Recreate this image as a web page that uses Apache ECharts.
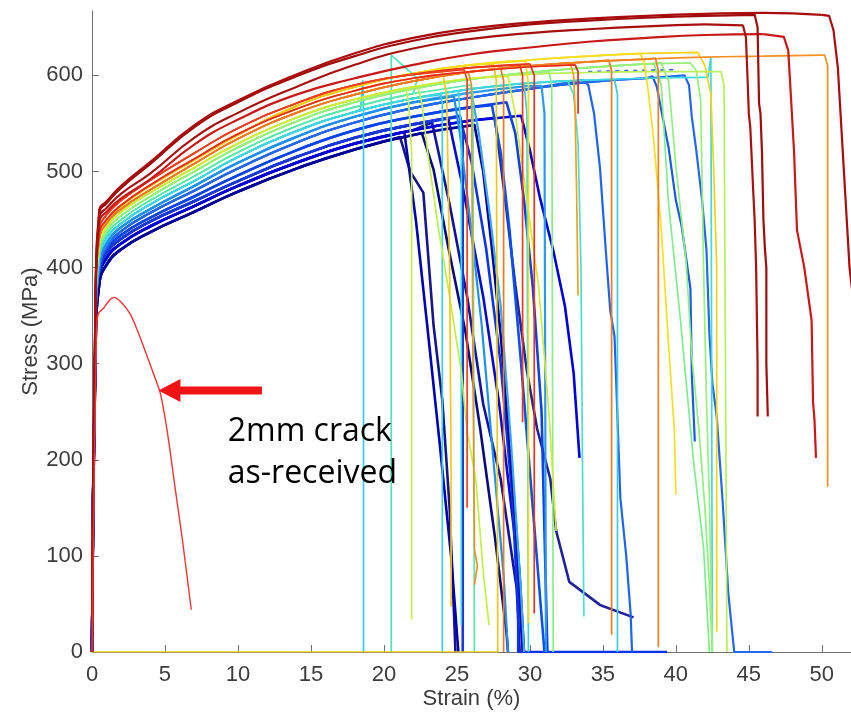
<!DOCTYPE html>
<html>
<head>
<meta charset="utf-8">
<script src="https://cdn.jsdelivr.net/npm/echarts@6/dist/echarts.min.js"></script>
<style>
  html, body { margin: 0; padding: 0; background: #ffffff; }
  #chart { width: 851px; height: 719px; }
</style>
</head>
<body>
<div id="chart"></div>
<script>
// ---------------------------------------------------------------
// Data: tensile tests, stress (MPa) against strain (%)
// ---------------------------------------------------------------
const strainTicks = [0, 5, 10, 15, 20, 25, 30, 35, 40, 45, 50];
const stressTicks = [0, 100, 200, 300, 400, 500, 600];

// strain stations at which the hardening curves are sampled
const strainKnots = [0, 0.25, 0.5, 1, 2, 4, 7, 10, 14, 18, 22, 26, 30, 34, 38, 42, 46, 50, 53];

// hardening curves (stress at each strain station)
const stressNavyLow   = [0, 320, 383, 403, 419, 437, 458, 479, 503, 523, 538, 548, 555];
const stressNavy      = [0, 330, 390, 410, 425, 443, 464, 485, 509, 529, 543, 553, 560, 563];
const stressDarkBlue  = [0, 335, 395, 415, 430, 448, 469, 490, 515, 535, 549, 559, 565, 569];
const stressBlue      = [0, 340, 398, 418, 434, 452, 474, 496, 522, 543, 557, 567, 574, 580];
const stressMidBlue   = [0, 340, 400, 421, 438, 457, 480, 503, 530, 551, 566, 577, 586, 593, 597, 600, 601];
const stressLightBlue = [0, 345, 405, 425, 442, 461, 485, 509, 536, 557, 572, 582, 589, 594];
const stressCyan      = [0, 350, 410, 430, 446, 466, 490, 515, 542, 562, 576, 586, 592, 595, 597, 598];
const stressAqua      = [0, 355, 415, 434, 450, 470, 495, 520, 547, 567, 581, 591, 597, 601, 604, 606];
const stressGreen     = [0, 360, 420, 438, 454, 474, 500, 525, 552, 572, 586, 596, 603, 608, 612, 614];
const stressLime      = [0, 362, 425, 442, 458, 478, 504, 529, 556, 575, 588, 597, 601, 603, 604, 604];
const stressYellow    = [0, 370, 432, 448, 464, 485, 512, 538, 568, 588, 602, 611, 616, 620, 623, 624, 624];
const stressOrange    = [0, 368, 430, 446, 461, 481, 508, 534, 561, 580, 594, 604, 610, 614, 617, 619, 620, 621, 621];
const stressRedOrange = [0, 372, 435, 450, 465, 486, 513, 539, 565, 584, 597, 604, 609, 612, 614, 615];
const stressRed       = [0, 375, 440, 455, 470, 491, 519, 545, 571, 590, 601, 608, 612, 614, 616];
const stressDarkRedA  = [0, 380, 460, 469, 485, 510, 548, 574, 601, 623, 639, 649, 655, 659, 662, 664, 665, 663, 661];
const stressDarkRedB  = [0, 378, 458, 467, 483, 508, 546, 572, 599, 620, 636, 646, 653, 657, 660, 662, 663];
const stressDarkRedC  = [0, 372, 453, 462, 477, 498, 535, 561, 588, 611, 628, 638, 644, 648, 651, 653];
const stressDarkRedD  = [0, 368, 448, 458, 472, 492, 528, 554, 580, 597, 611, 622, 629, 635, 639, 642, 643];

// specimens: which hardening curve each follows, then its failure path [strain, stress]
const specimenIds = [
  'N1', 'N2', 'N3', 'N4', 'N5', 'N6', 'N7', 'N8', 'N9', 'N10', 'N11', 'N12',
  'B1', 'B2', 'B3', 'LB1', 'LB2', 'LB3',
  'C1', 'C2', 'C3', 'C4', 'C5', 'C6', 'C7', 'A1', 'A2',
  'G1', 'G2', 'G3', 'G4', 'L1', 'L2', 'L3', 'L4',
  'Y0', 'Y1', 'Y2', 'Y3', 'Y4',
  'O1', 'O2', 'O3', 'O4', 'O5', 'O6',
  'R1', 'R2', 'R3', 'R4',
  'D4', 'D3', 'D2', 'D1'
];
const specimenBase = [
  'navyLow', 'navy', 'navy', 'darkBlue', 'navy', 'navy', 'navyLow', 'darkBlue', 'blue', 'blue', 'darkBlue', 'navyLow',
  'midBlue', 'midBlue', 'midBlue', 'lightBlue', 'lightBlue', 'lightBlue',
  'cyan', 'cyan', 'cyan', 'cyan', 'cyan', 'cyan', 'cyan', 'aqua', 'aqua',
  'green', 'green', 'green', 'green', 'lime', 'lime', 'lime', 'lime',
  'yellow', 'yellow', 'yellow', 'yellow', 'yellow',
  'orange', 'orange', 'orange', 'orange', 'redOrange', 'redOrange',
  'red', 'red', 'redOrange', 'red',
  'darkRedD', 'darkRedC', 'darkRedB', 'darkRedA'
];
const specimenFailure = [
  [[21.1, 536], [21.8, 500], [22.7, 478], [23.4, 340], [24.0, 262], [24.5, 150], [24.8, 40], [24.9, 0]],
  [[21.4, 541], [22.2, 448], [23.0, 335], [23.8, 220], [24.6, 100], [25.1, 0]],
  [[23.3, 551], [24.5, 466], [25.7, 370], [26.8, 258], [28.0, 180], [29.1, 66], [29.3, 0]],
  [[24.4, 556], [25.4, 484], [26.8, 370], [27.9, 258], [29.1, 103], [29.5, 0]],
  [[27.6, 556], [28.3, 472], [29.0, 382], [29.8, 292], [30.5, 232], [31.4, 180], [31.8, 126], [32.7, 73], [34.8, 49], [37.1, 36]],
  [[29.4, 558], [30.0, 522], [30.7, 472], [31.6, 418], [32.4, 360], [33.0, 290], [33.4, 202]],
  [[22.6, 540], [23.4, 502], [24.4, 422], [25.6, 332], [26.6, 232], [27.6, 120], [28.4, 20], [28.5, 0]],
  [[25.2, 557], [26.0, 510], [27.0, 420], [28.0, 300], [28.8, 160], [29.2, 40], [29.2, 0], [39.4, 0]],
  [[27.4, 569], [28.0, 520], [28.6, 440], [29.4, 300], [30.2, 150], [31.0, 0]],
  [[28.4, 572], [29.0, 540], [29.6, 470], [30.2, 380], [30.8, 250], [31.2, 0]],
  [[25.2, 558], [25.4, 540], [25.4, 0]],
  [[26.2, 549], [26.8, 500], [27.4, 420], [28.0, 330], [28.7, 200], [29.3, 80], [29.6, 0]],
  [[33.6, 595], [34.0, 590], [34.4, 560], [34.8, 504], [35.2, 418], [35.5, 356], [35.8, 328], [36.2, 160], [36.6, 100], [36.9, 40], [37.0, 0]],
  [[38.4, 599], [38.7, 588], [39.0, 564], [39.5, 525], [40.0, 470], [40.4, 443], [41.0, 378], [41.1, 287], [41.3, 219]],
  [[40.6, 600], [40.9, 590], [41.1, 556], [41.4, 522], [41.8, 470], [42.1, 418], [42.3, 331], [42.5, 280], [42.8, 245], [43.2, 158], [43.6, 60], [44.0, 0], [46.6, 0]],
  [[30.8, 589], [31.0, 560], [31.1, 0]],
  [[26.0, 582], [26.5, 540], [27.3, 450], [28.0, 360], [28.7, 220], [29.4, 60], [29.6, 0]],
  [[24.8, 578], [25.2, 540], [25.9, 450], [26.7, 340], [27.5, 200], [28.2, 80], [28.5, 0]],
  [[18.4, 565], [18.55, 595], [18.6, 560], [18.6, 0]],
  [[23.9, 580], [24.0, 570], [24.0, 0]],
  [[25.1, 584], [25.3, 540], [25.3, 28]],
  [[29.6, 592], [29.8, 560], [29.9, 0]],
  [[32.6, 594], [33.0, 580], [33.3, 530], [33.5, 400], [33.6, 200], [33.7, 37]],
  [[35.8, 596], [36.0, 580], [36.0, 0]],
  [[42.2, 598], [42.4, 619], [42.5, 0]],
  [[22.3, 597], [20.5, 621], [20.5, 0]],
  [[25.9, 590], [26.1, 580], [26.2, 0]],
  [[31.3, 604], [31.5, 590], [31.6, 0]],
  [[39.0, 613], [39.5, 594], [40.0, 506], [40.7, 406], [41.1, 307], [41.6, 228], [42.0, 148], [42.3, 69], [42.5, 0]],
  [[38.5, 612], [39.0, 590], [39.5, 467], [40.3, 348], [41.2, 200], [41.9, 108], [42.3, 0]],
  [[41.0, 613], [41.4, 605], [41.7, 574], [41.9, 400], [42.1, 260], [42.3, 158], [42.5, 0]],
  [[21.5, 587], [21.7, 570], [21.9, 520], [21.9, 34]],
  [[22.3, 589], [22.6, 571], [23.0, 520], [23.7, 444], [24.5, 370], [25.3, 292], [25.7, 230], [26.3, 179], [26.8, 84], [27.2, 28]],
  [[43.1, 604], [43.3, 590], [43.4, 300], [43.5, 0]],
  [[28.5, 599], [29.0, 560], [29.8, 470], [30.6, 380], [31.3, 250], [31.8, 126]],
  [[27.5, 612], [27.7, 595], [27.8, 0], [0, 0]],
  [[29.7, 615], [29.9, 590], [29.9, 30]],
  [[41.5, 624], [42.0, 610], [42.4, 580], [42.6, 500], [42.8, 400], [42.8, 21]],
  [[37.5, 623], [37.8, 616], [38.1, 585], [38.5, 530], [39.0, 440], [39.5, 320], [39.9, 230], [40.0, 164]],
  [[24.0, 604], [24.3, 580], [24.5, 400], [24.6, 200], [24.6, 47]],
  [[50.2, 621], [50.4, 610], [50.4, 172]],
  [[35.4, 616], [35.6, 605], [35.6, 18]],
  [[38.6, 618], [38.8, 605], [38.8, 5]],
  [[28.0, 607], [28.2, 595], [28.2, 0]],
  [[32.8, 611], [33.0, 600], [33.1, 560], [33.2, 480], [33.3, 371]],
  [[25.8, 603], [26.0, 590], [26.1, 300], [26.2, 107], [26.4, 90], [26.2, 70]],
  [[29.3, 611], [29.5, 600], [29.5, 239]],
  [[30.1, 612], [30.3, 600], [30.3, 40]],
  [[33.1, 611], [33.3, 604], [33.3, 560]],
  [[25.5, 606], [25.7, 595], [25.7, 150]],
  [[47.4, 640], [47.7, 626], [47.9, 574], [48.1, 520], [48.3, 439], [48.8, 400], [49.3, 345], [49.4, 260], [49.5, 241], [49.6, 202]],
  [[44.6, 652], [44.8, 640], [44.9, 602], [45.0, 560], [45.1, 546], [45.3, 480], [45.4, 449], [45.5, 400], [45.6, 300], [45.6, 245]],
  [[45.4, 663], [45.6, 650], [45.7, 571], [45.8, 560], [45.9, 520], [46.0, 450], [46.1, 420], [46.2, 400], [46.2, 300], [46.3, 245]],
  [[50.5, 662], [50.8, 647], [51.1, 608], [51.5, 504], [51.9, 400], [52.2, 360], [52.6, 250]]
];

// scatter of the extensometer signal on one blue test near the plateau
const noiseStrain = [34.0, 40.0];
const noiseStress = [604, 606];

// cracked specimen (2 mm crack, as-received)
const crackStrain = [0, 0.3, 0.43, 0.8, 1.2, 1.5, 2.0, 2.6, 3.1, 3.6, 4.2, 4.7, 5.2, 5.7, 6.2, 6.8];
const crackStress = [0, 330, 352, 358, 366, 369, 364, 352, 335, 315, 290, 268, 225, 170, 116, 44];

// ---------------------------------------------------------------
// Styling
// ---------------------------------------------------------------
const baseCurves = {
  navyLow: stressNavyLow, navy: stressNavy, darkBlue: stressDarkBlue, blue: stressBlue,
  midBlue: stressMidBlue, lightBlue: stressLightBlue, cyan: stressCyan, aqua: stressAqua,
  green: stressGreen, lime: stressLime, yellow: stressYellow, orange: stressOrange,
  redOrange: stressRedOrange, red: stressRed,
  darkRedA: stressDarkRedA, darkRedB: stressDarkRedB, darkRedC: stressDarkRedC, darkRedD: stressDarkRedD
};

const lineColors = {
  N1: '#16168c', N2: '#0000b4', N3: '#1212a0', N4: '#0808d0', N5: '#22229a', N6: '#0000dc',
  N7: '#0a0a80', N8: '#0a34ec', N9: '#0a50f0', N10: '#0a44e8', N11: '#1838d8', N12: '#00009a',
  B1: '#1e64f0', B2: '#1a5ae8', B3: '#2468f0', LB1: '#2a9af0', LB2: '#3aa8f0', LB3: '#2090f0',
  C1: '#34cce8', C2: '#3ad0e6', C3: '#40d8e0', C4: '#38d0e8', C5: '#48e0d0', C6: '#38cce8', C7: '#40d8e0',
  A1: '#50e4b8', A2: '#58e8a8',
  G1: '#88ee88', G2: '#90f080', G3: '#80ec90', G4: '#98f078',
  L1: '#c8f040', L2: '#c0f048', L3: '#b8f058', L4: '#d0ec38',
  Y0: '#ecc818', Y1: '#f5dc10', Y2: '#f2d410', Y3: '#f4e020', Y4: '#f5c818',
  O1: '#f39020', O2: '#f07c20', O3: '#f08020', O4: '#f07a1e', O5: '#f5a020', O6: '#f09028',
  R1: '#f03a1a', R2: '#e83418', R3: '#e8281c', R4: '#f04020',
  D4: '#c81818', D3: '#a81010', D2: '#a00c0c', D1: '#a80c0c'
};

function lineWidthFor(id) {
  const c = id.charAt(0);
  if (c === 'N') return 2.6;
  if (c === 'B' || id.indexOf('LB') === 0) return 2.2;
  if (c === 'D') return 2.2;
  return 1.7;
}

function hardeningPath(base, untilStrain) {
  const pts = [];
  for (let i = 0; i < base.length; i++) {
    if (strainKnots[i] < untilStrain) pts.push([strainKnots[i], base[i]]);
  }
  return pts;
}

const series = [];
specimenIds.forEach(function (id, i) {
  const fail = specimenFailure[i];
  const hard = hardeningPath(baseCurves[specimenBase[i]], fail[0][0]);
  const color = lineColors[id];
  const width = lineWidthFor(id);
  series.push({
    type: 'line', name: id + ' hardening', data: hard,
    smooth: 0.5, showSymbol: false, silent: true,
    lineStyle: { color: color, width: width }, z: 2 + i * 0.01
  });
  series.push({
    type: 'line', name: id + ' failure', data: [hard[hard.length - 1]].concat(fail),
    smooth: false, showSymbol: false, silent: true,
    lineStyle: { color: color, width: width }, z: 2 + i * 0.01
  });
});

series.push({
  type: 'line', name: 'signal scatter',
  data: noiseStrain.map(function (s, i) { return [s, noiseStress[i]]; }),
  showSymbol: false, silent: true,
  lineStyle: { color: '#2a5ae0', width: 1.6, type: [4, 5] }, z: 2
});

series.push({
  type: 'line', name: '2mm crack as-received',
  data: crackStrain.map(function (s, i) { return [s, crackStress[i]]; }),
  smooth: 0.3, showSymbol: false, silent: true,
  lineStyle: { color: '#f03434', width: 1.4 }, z: 3
});

const axisGray = '#707070';
const textGray = '#3c3c3c';
const fontFamily = '"Liberation Sans", Arial, sans-serif';

const option = {
  animation: false,
  backgroundColor: '#ffffff',
  grid: { left: 92, right: 0, top: 11, bottom: 67, containLabel: false, outerBoundsMode: 'none' },
  xAxis: {
    type: 'value', min: 0, max: 52,
    name: 'Strain (%)', nameLocation: 'middle', nameGap: 36, nameMoveOverlap: false,
    nameTextStyle: { fontSize: 22, color: textGray, fontFamily: fontFamily },
    axisLine: { show: true, lineStyle: { color: axisGray, width: 1 } },
    axisTick: { show: true, inside: true, length: 7, customValues: strainTicks, lineStyle: { color: axisGray } },
    axisLabel: { customValues: strainTicks, fontSize: 22, color: textGray, fontFamily: fontFamily, margin: 12 },
    splitLine: { show: false }
  },
  yAxis: {
    type: 'value', min: 0, max: 667,
    name: 'Stress (MPa)', nameLocation: 'middle', nameGap: 50, nameRotate: 90, nameMoveOverlap: false,
    nameTextStyle: { fontSize: 22, color: textGray, fontFamily: fontFamily },
    axisLine: { show: true, lineStyle: { color: axisGray, width: 1 } },
    axisTick: { show: true, inside: true, length: 7, customValues: stressTicks, lineStyle: { color: axisGray } },
    axisLabel: { customValues: stressTicks, fontSize: 22, color: textGray, fontFamily: fontFamily, margin: 9 },
    splitLine: { show: false }
  },
  series: series
};

const chart = echarts.init(document.getElementById('chart'), null, { renderer: 'canvas' });
chart.setOption(option);

// annotation: arrow pointing at the cracked specimen, with its caption
const arrowTip = chart.convertToPixel({ gridIndex: 0 }, [4.55, 272]);
const arrowTail = chart.convertToPixel({ gridIndex: 0 }, [11.64, 272]);
const captionLine1 = chart.convertToPixel({ gridIndex: 0 }, [9.3, 229]);
const captionLine2 = chart.convertToPixel({ gridIndex: 0 }, [9.3, 185]);
const headLen = 22, headHalf = 11.5, shaftHalf = 4;

chart.setOption({
  graphic: [
    {
      type: 'polygon', silent: true, z: 100,
      shape: { points: [
        [arrowTip[0], arrowTip[1]],
        [arrowTip[0] + headLen, arrowTip[1] - headHalf],
        [arrowTip[0] + headLen, arrowTip[1] + headHalf]
      ] },
      style: { fill: '#f01414' }
    },
    {
      type: 'rect', silent: true, z: 100,
      shape: { x: arrowTip[0] + headLen - 1, y: arrowTip[1] - shaftHalf, width: arrowTail[0] - arrowTip[0] - headLen + 1, height: shaftHalf * 2 },
      style: { fill: '#f01414' }
    },
    {
      type: 'text', silent: true, z: 100, x: captionLine1[0], y: captionLine1[1],
      style: { text: '2mm crack', fontSize: 32, fontFamily: '"Open Sans", sans-serif', fill: '#000000', align: 'left', verticalAlign: 'middle' }
    },
    {
      type: 'text', silent: true, z: 100, x: captionLine2[0], y: captionLine2[1],
      style: { text: 'as-received', fontSize: 32, fontFamily: '"Open Sans", sans-serif', fill: '#000000', align: 'left', verticalAlign: 'middle' }
    }
  ]
});
</script>
</body>
</html>
